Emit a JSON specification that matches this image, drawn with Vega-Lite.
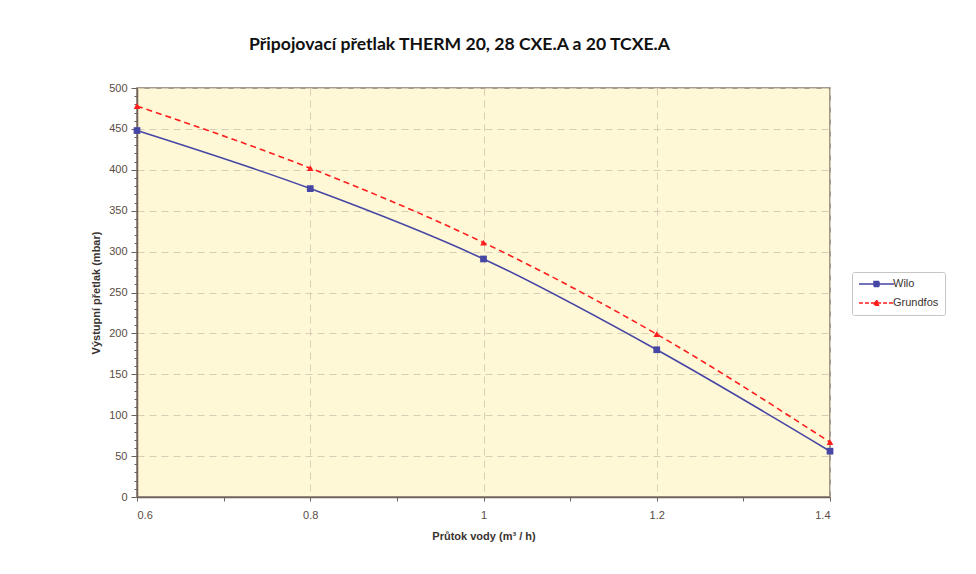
{
  "$schema": "https://vega.github.io/schema/vega-lite/v6.json",
  "width": 693,
  "height": 409,
  "autosize": {"type": "none"},
  "padding": {"left": 137, "top": 88, "right": 146, "bottom": 77},
  "background": "#ffffff",
  "title": {
    "text": "Připojovací přetlak THERM 20, 28 CXE.A a 20 TCXE.A",
    "font": "Lato",
    "fontSize": 17.6,
    "fontWeight": "bold",
    "color": "#111111",
    "anchor": "middle",
    "dx": -24,
    "offset": 28
  },
  "config": {
    "view": {"fill": "#fff8d6", "stroke": "#857a70", "strokeWidth": 1.5},
    "axis": {
      "labelFont": "Liberation Sans",
      "labelFontSize": 11,
      "labelColor": "#5a4c44",
      "titleFont": "Liberation Sans",
      "titleFontSize": 11,
      "titleFontWeight": "bold",
      "titleColor": "#3a3330",
      "domainColor": "#6f6258",
      "domainWidth": 1.5,
      "tickColor": "#6f6258",
      "gridColor": "#d8ceb6",
      "gridDash": [7, 5],
      "gridWidth": 1
    }
  },
  "data": {
    "values": [
      {"x": 0.6, "y": 448, "series": "Wilo"},
      {"x": 0.8, "y": 377, "series": "Wilo"},
      {"x": 1.0, "y": 291, "series": "Wilo"},
      {"x": 1.2, "y": 180, "series": "Wilo"},
      {"x": 1.4, "y": 56, "series": "Wilo"},
      {"x": 0.6, "y": 478, "series": "Grundfos"},
      {"x": 0.8, "y": 402, "series": "Grundfos"},
      {"x": 1.0, "y": 311, "series": "Grundfos"},
      {"x": 1.2, "y": 199, "series": "Grundfos"},
      {"x": 1.4, "y": 67, "series": "Grundfos"}
    ]
  },
  "encoding": {
    "x": {
      "field": "x",
      "type": "quantitative",
      "scale": {"domain": [0.6, 1.4], "nice": false, "zero": false},
      "axis": {
        "title": "Průtok vody (m³ / h)",
        "format": "~g",
        "values": [0.6, 0.7, 0.8, 0.9, 1.0, 1.1, 1.2, 1.3, 1.4],
        "labelExpr": "abs(datum.value*5 - round(datum.value*5)) < 0.001 ? datum.label : ''",
        "tickSize": 4,
        "labelPadding": 8,
        "titlePadding": 10,
        "gridOpacity": {"condition": {"test": "abs(datum.value*5 - round(datum.value*5)) < 0.001", "value": 1}, "value": 0}
      }
    },
    "y": {
      "field": "y",
      "type": "quantitative",
      "scale": {"domain": [0, 500], "nice": false},
      "axis": {
        "title": "Výstupní přetlak (mbar)",
        "values": [0,10,20,30,40,50,60,70,80,90,100,110,120,130,140,150,160,170,180,190,200,210,220,230,240,250,260,270,280,290,300,310,320,330,340,350,360,370,380,390,400,410,420,430,440,450,460,470,480,490,500],
        "labelExpr": "datum.value % 50 === 0 ? datum.label : ''",
        "tickSize": {"condition": {"test": "datum.value % 50 === 0", "value": 6}, "value": 3},
        "labelPadding": 4,
        "titlePadding": 7,
        "gridOpacity": {"condition": {"test": "datum.value % 50 === 0", "value": 1}, "value": 0}
      }
    },
    "color": {
      "field": "series",
      "type": "nominal",
      "scale": {"domain": ["Wilo", "Grundfos"], "range": ["#4646a4", "#ff1e1e"]},
      "legend": {
        "title": null,
        "orient": "none",
        "legendX": 715,
        "legendY": 184,
        "padding": 6,
        "strokeColor": "#c8c4c0",
        "fillColor": "#ffffff",
        "cornerRadius": 2,
        "symbolSize": 100,
        "symbolType": "stroke",
        "rowPadding": 7,
        "labelOffset": 23,
        "labelFont": "Liberation Sans",
        "labelFontSize": 11,
        "labelColor": "#3a3330",
        "encode": {
          "symbols": {
            "update": {
              "shape": {"signal": "datum.value === 'Wilo' ? 'M-1,0H6M2,-0.5H3V0.5H2Z' : 'M-1,0H6M2.5,-0.6L3.05,0.45H1.95Z'"},
              "strokeDash": {"signal": "datum.value === 'Wilo' ? [1,0] : [4,2]"},
              "fill": {"scale": "color", "field": "value"},
              "stroke": {"scale": "color", "field": "value"},
              "strokeWidth": {"value": 1.5},
              "opacity": {"value": 1}
            }
          }
        }
      }
    }
  },
  "layer": [
    {
      "transform": [{"filter": "datum.series === 'Wilo'"}],
      "mark": {"type": "line", "interpolate": "monotone", "strokeWidth": 1.6}
    },
    {
      "transform": [{"filter": "datum.series === 'Grundfos'"}],
      "mark": {"type": "line", "interpolate": "monotone", "strokeWidth": 1.6, "strokeDash": [6, 4]}
    },
    {
      "transform": [{"filter": "datum.series === 'Wilo'"}],
      "mark": {"type": "point", "filled": true, "size": 45, "opacity": 1, "shape": "square"}
    },
    {
      "transform": [{"filter": "datum.series === 'Grundfos'"}],
      "mark": {"type": "point", "filled": true, "size": 45, "opacity": 1, "shape": "triangle-up"}
    }
  ]
}
